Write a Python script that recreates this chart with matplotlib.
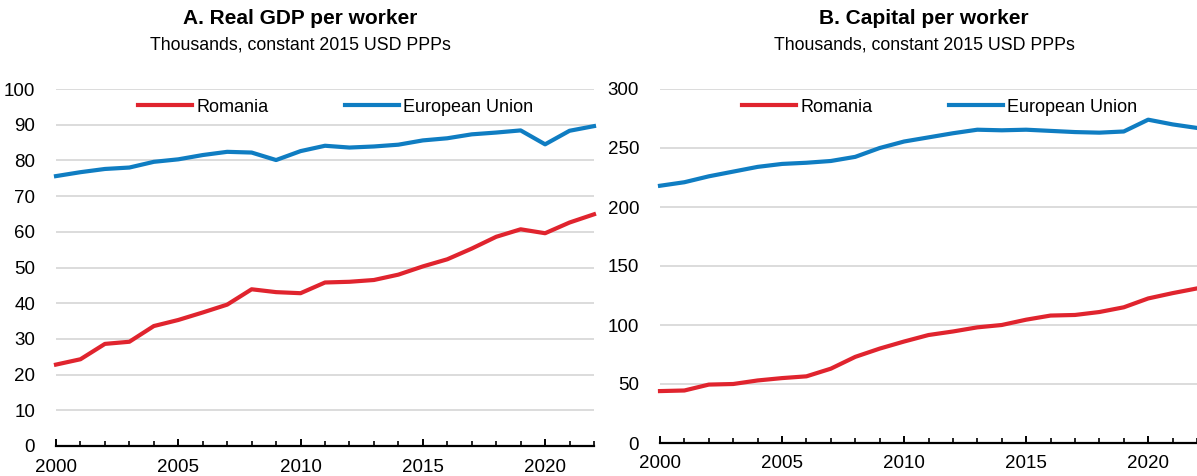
import matplotlib
matplotlib.use("Agg")
import matplotlib.pyplot as plt
from matplotlib.ticker import MultipleLocator

years = list(range(2000, 2023))
gdp_romania = [22.8, 24.3, 28.6, 29.2, 33.6, 35.3, 37.4, 39.6, 43.9, 43.1, 42.8, 45.8,
               46.0, 46.5, 48.0, 50.3, 52.3, 55.3, 58.6, 60.7, 59.6, 62.6, 64.9]
gdp_eu = [75.6, 76.7, 77.6, 78.0, 79.6, 80.3, 81.5, 82.4, 82.2, 80.1, 82.6, 84.1,
          83.6, 83.9, 84.4, 85.6, 86.2, 87.3, 87.8, 88.4, 84.5, 88.3, 89.6]
cap_romania = [44.0, 44.5, 49.5, 50.0, 53.0, 55.0, 56.5, 63.0, 73.0, 80.0, 86.0, 91.5,
               94.5, 98.0, 100.0, 104.5, 108.0, 108.5, 111.0, 115.0, 122.5, 127.0, 131.0]
cap_eu = [218.0, 221.0, 226.0, 230.0, 234.0, 236.5, 237.5, 239.0, 242.5, 250.0, 255.5, 259.0,
          262.5, 265.5, 265.0, 265.5, 264.5, 263.5, 263.0, 264.0, 274.0, 270.0, 267.0]
series_labels = ["Romania", "European Union"]
titles = ["A. Real GDP per worker", "B. Capital per worker"]
subtitle = "Thousands, constant 2015 USD PPPs"

plt.rcParams['font.family'] = ['Liberation Sans Narrow', 'Liberation Sans', 'DejaVu Sans']

RED = "#E0242E"
BLUE = "#0F7DC2"
GRID = "#D9D9D9"

W, H = 1197, 476
fig = plt.figure(figsize=(W / 100, H / 100), dpi=100)

def box(x0, x1, ytop, ybot):
    return [x0 / W, 1 - ybot / H, (x1 - x0) / W, (ybot - ytop) / H]

axA = fig.add_axes(box(56, 594, 89, 446))
axB = fig.add_axes(box(660, 1197, 89, 443))

panels = [
    (axA, gdp_romania, gdp_eu, 100, 10, titles[0], 300, 138),
    (axB, cap_romania, cap_eu, 300, 50, titles[1], 924, 742),
]

for ax, ro, eu, ymax, step, title, tx, legx in panels:
    ax.plot(years, ro, color=RED, lw=3.0, label=series_labels[0], clip_on=False)
    ax.plot(years, eu, color=BLUE, lw=3.0, label=series_labels[1], clip_on=False)
    ax.set_xlim(2000, 2022)
    ax.set_ylim(0, ymax)
    ax.yaxis.set_major_locator(MultipleLocator(step))
    ax.xaxis.set_major_locator(MultipleLocator(5))
    ax.xaxis.set_minor_locator(MultipleLocator(1))
    ax.grid(axis='y', color=GRID, lw=1.3)
    ax.set_axisbelow(True)
    for s in ['top', 'right', 'left']:
        ax.spines[s].set_visible(False)
    ax.spines['bottom'].set_color('black')
    ax.spines['bottom'].set_linewidth(1.6)
    ax.spines['bottom'].set_zorder(5)
    ax.tick_params(axis='y', length=0, labelsize=13.5, pad=15)
    ax.tick_params(axis='x', which='major', direction='in', length=5, width=1.4,
                   labelsize=13.5, pad=9)
    ax.tick_params(axis='x', which='minor', direction='in', length=3.5, width=1.2)
    ax.patch.set_visible(False)
    bb = ax.get_position()
    ax_w_px = bb.width * W
    ax_h_px = bb.height * H
    x0_px = bb.x0 * W
    ytop_px = (1 - bb.y1) * H
    lx = (legx - x0_px) / ax_w_px
    ly = 1 - (107 - ytop_px) / ax_h_px
    ax.legend(loc='center left', bbox_to_anchor=(lx, ly), ncol=2, frameon=False,
              fontsize=13, handlelength=3.0, handletextpad=0.25, columnspacing=4.2,
              borderaxespad=0.0, borderpad=0.0)
    fig.text(tx / W, 1 - 18 / H, title, ha='center', va='center', fontsize=15,
             fontweight='bold')
    fig.text(tx / W, 1 - 45 / H, subtitle, ha='center', va='center', fontsize=12.8)

fig.savefig("out.png", dpi=100)
